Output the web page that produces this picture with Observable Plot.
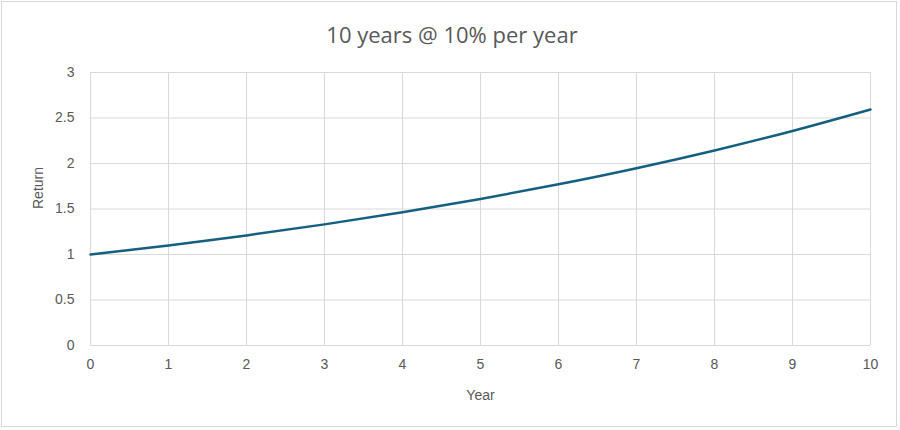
<!DOCTYPE html>
<html>
<head>
<meta charset="utf-8">
<script src="https://cdn.jsdelivr.net/npm/d3@7"></script>
<script src="https://cdn.jsdelivr.net/npm/@observablehq/plot@0.6"></script>
<style>
  html, body { margin: 0; padding: 0; background: #fff; }
  #chart { position: relative; width: 900px; height: 430px; }
  #frame { position: absolute; left: 1px; top: 1px; width: 896px; height: 426px; border: 1px solid #d9d9d9; box-sizing: border-box; pointer-events: none; }
  #title { position: absolute; left: 0; width: 904px; top: 19px; text-align: center; font-family: "Open Sans", "Liberation Sans", sans-serif; font-size: 22px; color: #595959; }
  #chart svg { position: absolute; left: 0; top: 0; }
</style>
</head>
<body>
<div id="chart">
  <div id="title">10 years @ 10% per year</div>
</div>
<script>
const years = [0, 1, 2, 3, 4, 5, 6, 7, 8, 9, 10];
const returns = [1.0, 1.1, 1.21, 1.331, 1.4641, 1.6105, 1.7716, 1.9487, 2.1436, 2.3579, 2.5937];
const xTicks = [0, 1, 2, 3, 4, 5, 6, 7, 8, 9, 10];
const yTicks = [0, 0.5, 1, 1.5, 2, 2.5, 3];

const data = years.map((y, i) => ({year: y, ret: returns[i]}));
const grid = "#d9d9d9";
const txt = "#595959";
const font = "'Liberation Sans', Arial, sans-serif";

const plot = Plot.plot({
  width: 900,
  height: 430,
  marginLeft: 90,
  marginRight: 30,
  marginTop: 72,
  marginBottom: 85,
  style: {fontFamily: font, fontSize: "14px", color: txt, background: "transparent"},
  x: {domain: [0, 10], ticks: xTicks, tickFormat: d => String(d), label: null, tickSize: 0, tickPadding: 14},
  y: {domain: [0, 3], ticks: yTicks, tickFormat: d => String(d), label: null, tickSize: 0, tickPadding: 16},
  marks: [
    Plot.gridX(xTicks, {stroke: grid, strokeOpacity: 1, strokeWidth: 1}),
    Plot.gridY(yTicks, {stroke: grid, strokeOpacity: 1, strokeWidth: 1}),
    Plot.axisX({ticks: xTicks, tickFormat: d => String(d), tickSize: 0, tickPadding: 14, label: null, fill: txt, fontSize: 14}),
    Plot.axisY({ticks: yTicks, tickFormat: d => String(d), tickSize: 0, tickPadding: 16, label: null, fill: txt, fontSize: 14}),
    Plot.text(["Year"], {frameAnchor: "bottom", dy: 54, fill: txt, fontSize: 14, text: d => d}),
    Plot.text(["Return"], {frameAnchor: "left", dx: -52, rotate: -90, fill: txt, fontSize: 14, text: d => d}),
    Plot.line(data, {x: "year", y: "ret", stroke: "#156082", strokeWidth: 2.5, curve: "monotone-x"})
  ]
});
document.getElementById("chart").appendChild(plot);
const f = document.createElement("div");
f.id = "frame";
document.getElementById("chart").appendChild(f);
</script>
</body>
</html>
